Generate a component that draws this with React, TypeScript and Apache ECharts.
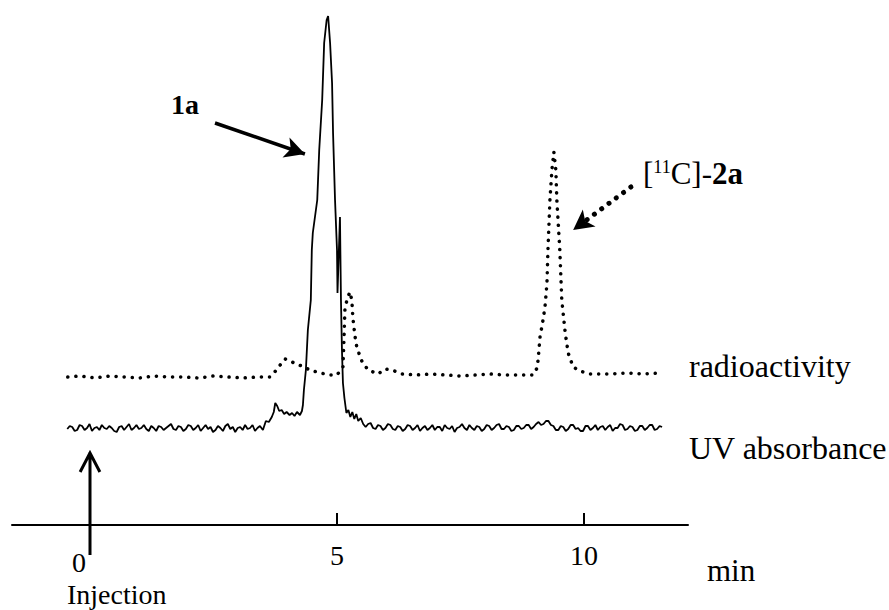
import React, { useEffect, useRef } from "react";
import * as echarts from "echarts";

// time in minutes, detector response in arbitrary units (baseline offsets included)
const tickValues = [0, 5, 10];
const tickLabels = ["0", "5", "10"];

const uvTrace: [number, number][] = [
  [-0.46, 96], [-0.41, 99], [-0.36, 98], [-0.31, 94], [-0.26, 95], [-0.21, 100], [-0.16, 99], [-0.11, 95], [-0.06, 97], [-0.01, 101],
  [0.04, 94], [0.09, 97], [0.14, 98], [0.19, 95], [0.24, 100], [0.29, 97], [0.34, 96], [0.39, 99], [0.44, 97], [0.49, 94],
  [0.54, 93], [0.59, 98], [0.64, 99], [0.69, 95], [0.74, 98], [0.79, 101], [0.84, 95], [0.89, 97], [0.94, 100], [0.99, 96],
  [1.04, 97], [1.09, 100], [1.14, 96], [1.19, 94], [1.24, 99], [1.29, 97], [1.34, 94], [1.39, 99], [1.44, 98], [1.49, 95],
  [1.54, 97], [1.59, 99], [1.64, 101], [1.69, 96], [1.74, 95], [1.79, 99], [1.84, 98], [1.89, 94], [1.94, 96], [1.99, 100],
  [2.04, 99], [2.09, 95], [2.14, 97], [2.19, 100], [2.24, 94], [2.29, 97], [2.34, 100], [2.39, 96], [2.44, 98], [2.49, 93],
  [2.54, 95], [2.59, 99], [2.64, 97], [2.69, 94], [2.74, 99], [2.79, 101], [2.84, 96], [2.89, 98], [2.94, 93], [2.99, 97],
  [3.04, 98], [3.09, 95], [3.14, 100], [3.19, 96], [3.24, 97], [3.29, 100], [3.34, 94], [3.39, 97], [3.44, 99],
  [3.5, 95], [3.56, 104], [3.62, 103], [3.68, 108], [3.72, 113], [3.75, 122], [3.79, 119], [3.83, 114], [3.88, 115], [3.93, 111],
  [3.98, 113], [4.04, 110], [4.09, 112], [4.14, 109], [4.19, 113], [4.25, 110], [4.29, 114],
  [4.31, 120], [4.33, 135], [4.37, 155], [4.41, 195], [4.47, 225], [4.49, 275], [4.51, 292], [4.6, 325], [4.64, 375], [4.7, 425],
  [4.74, 482], [4.79, 505], [4.82, 509], [4.86, 482], [4.9, 442], [4.92, 392], [4.96, 325], [5.0, 275], [5.01, 232],
  [5.06, 308], [5.08, 225], [5.1, 175], [5.12, 142], [5.15, 127], [5.19, 112],
  [5.23, 115], [5.27, 108], [5.31, 113], [5.35, 106], [5.39, 111], [5.43, 104], [5.48, 107], [5.53, 101],
  [5.58, 98], [5.63, 101], [5.68, 102], [5.73, 97], [5.78, 96], [5.83, 100], [5.88, 99], [5.93, 95], [5.98, 97], [6.03, 101],
  [6.08, 100], [6.13, 96], [6.18, 95], [6.23, 99], [6.28, 98], [6.33, 94], [6.38, 96], [6.43, 100], [6.48, 99], [6.53, 95],
  [6.58, 97], [6.63, 100], [6.68, 94], [6.73, 97], [6.78, 99], [6.83, 95], [6.88, 97], [6.93, 100], [6.98, 95], [7.03, 98],
  [7.08, 98], [7.13, 94], [7.18, 100], [7.23, 97], [7.28, 96], [7.33, 99], [7.38, 93], [7.43, 97], [7.48, 98], [7.53, 101],
  [7.58, 97], [7.63, 95], [7.68, 100], [7.73, 97], [7.78, 95], [7.83, 99], [7.88, 98], [7.93, 94], [7.98, 96], [8.03, 100],
  [8.08, 99], [8.13, 95], [8.18, 97], [8.23, 100], [8.28, 101], [8.33, 96], [8.38, 96], [8.43, 99], [8.48, 98], [8.53, 94],
  [8.58, 95], [8.63, 99], [8.68, 99], [8.73, 96], [8.78, 97], [8.83, 100], [8.88, 100], [8.93, 96], [8.98, 98], [9.03, 101],
  [9.08, 103], [9.13, 100], [9.18, 101], [9.23, 104], [9.28, 104], [9.33, 100], [9.38, 99], [9.43, 95], [9.48, 95], [9.53, 99],
  [9.58, 98], [9.63, 94], [9.68, 96], [9.73, 100], [9.78, 100], [9.83, 96], [9.88, 97], [9.93, 94], [9.98, 94], [10.03, 99],
  [10.08, 99], [10.13, 95], [10.18, 97], [10.23, 100], [10.28, 95], [10.33, 98], [10.38, 99], [10.43, 95], [10.48, 98], [10.53, 100],
  [10.58, 94], [10.63, 97], [10.68, 97], [10.73, 101], [10.78, 100], [10.83, 95], [10.88, 96], [10.93, 99], [10.98, 98], [11.03, 94],
  [11.08, 95], [11.13, 99], [11.18, 99], [11.23, 95], [11.28, 97], [11.33, 100], [11.38, 100], [11.43, 95], [11.48, 96], [11.53, 99], [11.58, 98],
];

const radioTrace: [number, number][] = [
  [-0.45, 148], [-0.2, 149], [0.1, 147], [0.4, 149], [0.7, 148], [1.0, 147], [1.3, 149], [1.6, 148], [1.9, 148], [2.2, 147],
  [2.5, 149], [2.8, 148], [3.1, 147], [3.4, 148], [3.64, 148],
  [3.74, 153], [3.85, 160], [3.95, 166], [4.05, 164], [4.17, 161], [4.29, 159], [4.45, 155], [4.66, 152], [4.86, 150], [5.0, 150],
  [5.12, 158], [5.14, 185], [5.16, 215], [5.2, 225], [5.26, 233], [5.3, 225], [5.32, 208], [5.36, 190], [5.4, 178], [5.47, 168],
  [5.51, 163], [5.63, 155], [5.83, 151], [5.97, 156], [6.11, 155], [6.32, 151], [6.6, 150], [6.9, 151], [7.2, 150], [7.5, 149],
  [7.8, 150], [8.1, 151], [8.4, 150], [8.7, 150], [8.97, 150],
  [9.05, 157], [9.07, 165], [9.11, 188], [9.17, 205], [9.21, 218], [9.25, 242], [9.27, 275], [9.31, 325], [9.35, 355], [9.39, 373],
  [9.43, 355], [9.45, 325], [9.51, 275], [9.55, 225], [9.62, 192], [9.68, 172], [9.78, 158], [9.92, 154], [10.12, 151], [10.5, 151],
  [10.9, 152], [11.2, 151], [11.54, 152],
];

// injection marker at t = 0 (shaft and open arrow head)
const injectionArrow: [number, number][] = [
  [0, -30], [0, 72], [-0.2, 53], [0, 72], [0.2, 53],
];

// annotation arrows [start, tip]
const arrow1a: [number, number][] = [[2.53, 402], [4.35, 371]];
const arrow2a: [number, number][] = [[10.95, 338], [9.78, 295]];

const FONT = "'Liberation Serif', 'Times New Roman', serif";

export default function App() {
  const ref = useRef<HTMLDivElement>(null);

  useEffect(() => {
    if (!ref.current) return;
    const chart = echarts.init(ref.current, undefined, { renderer: "svg" });
    const txt = (text: string, left: number, top: number, size: number, weight = "normal") => ({
      type: "text",
      left,
      top,
      style: {
        text: `{t|${text}}`,
        fill: "#000",
        rich: { t: { fontFamily: FONT, fontSize: size, fontWeight: weight, color: "#000" } },
      },
    });
    chart.setOption({
      animation: false,
      backgroundColor: "#ffffff",
      grid: { left: 12, right: 201, top: 0, bottom: 85 },
      xAxis: {
        type: "value",
        min: -1.579,
        max: 12.105,
        axisLine: { onZero: false, lineStyle: { color: "#000", width: 2 } },
        axisTick: {
          show: true,
          inside: true,
          length: 12,
          customValues: tickValues,
          lineStyle: { color: "#000", width: 2 },
        },
        axisLabel: {
          customValues: tickValues,
          margin: 16,
          color: "#000",
          fontFamily: FONT,
          fontSize: 28,
          formatter: (v: number) => {
            const i = tickValues.indexOf(v);
            const s = i >= 0 ? tickLabels[i] : String(v);
            return v === 0 ? `{z|${s}}` : `{d|${s}}`;
          },
          rich: {
            z: { fontFamily: FONT, fontSize: 28, color: "#000", padding: [7, 22, 0, 0] },
            d: { fontFamily: FONT, fontSize: 28, color: "#000" },
          },
        },
        splitLine: { show: false },
      },
      yAxis: { type: "value", min: 0, max: 525, show: false },
      series: [
        {
          name: "UV absorbance",
          type: "line",
          data: uvTrace,
          showSymbol: false,
          symbol: "none",
          lineStyle: { color: "#000", width: 1.8 },
          markLine: {
            silent: true,
            symbol: ["none", "arrow"],
            symbolSize: [16, 20],
            label: { show: false },
            lineStyle: { color: "#000", width: 3.5, type: "solid" },
            data: [[{ coord: arrow1a[0] }, { coord: arrow1a[1] }]],
          },
        },
        {
          name: "radioactivity",
          type: "line",
          data: radioTrace,
          showSymbol: false,
          symbol: "none",
          lineStyle: { color: "#000", width: 3.5, type: [0.1, 8], cap: "round" },
          markLine: {
            silent: true,
            symbol: ["none", "arrow"],
            symbolSize: [16, 20],
            label: { show: false },
            lineStyle: { color: "#000", width: 5, type: [0.1, 9], cap: "round" },
            data: [[{ coord: arrow2a[0] }, { coord: arrow2a[1] }]],
          },
        },
        {
          name: "Injection",
          type: "line",
          data: injectionArrow,
          clip: false,
          showSymbol: false,
          symbol: "none",
          lineStyle: { color: "#000", width: 3, join: "miter" },
        },
      ],
      graphic: [
        txt("1a", 171, 90, 28, "bold"),
        {
          type: "text",
          left: 643,
          top: 158,
          style: {
            text: "{n|[}{s|11}{n|C]-}{b|2a}",
            fill: "#000",
            rich: {
              n: { fontFamily: FONT, fontSize: 31, verticalAlign: "bottom" },
              s: { fontFamily: FONT, fontSize: 18, verticalAlign: "top" },
              b: { fontFamily: FONT, fontSize: 31, fontWeight: "bold", verticalAlign: "bottom" },
            },
          },
        },
        txt("radioactivity", 689, 350, 32),
        txt("UV absorbance", 689, 432, 32),
        txt("min", 707, 555, 31),
        txt("Injection", 67, 580, 28),
      ],
    });
    return () => chart.dispose();
  }, []);

  return (
    <div
      ref={ref}
      style={{ position: "fixed", left: 0, top: 0, width: 889, height: 610, background: "#fff" }}
    />
  );
}
